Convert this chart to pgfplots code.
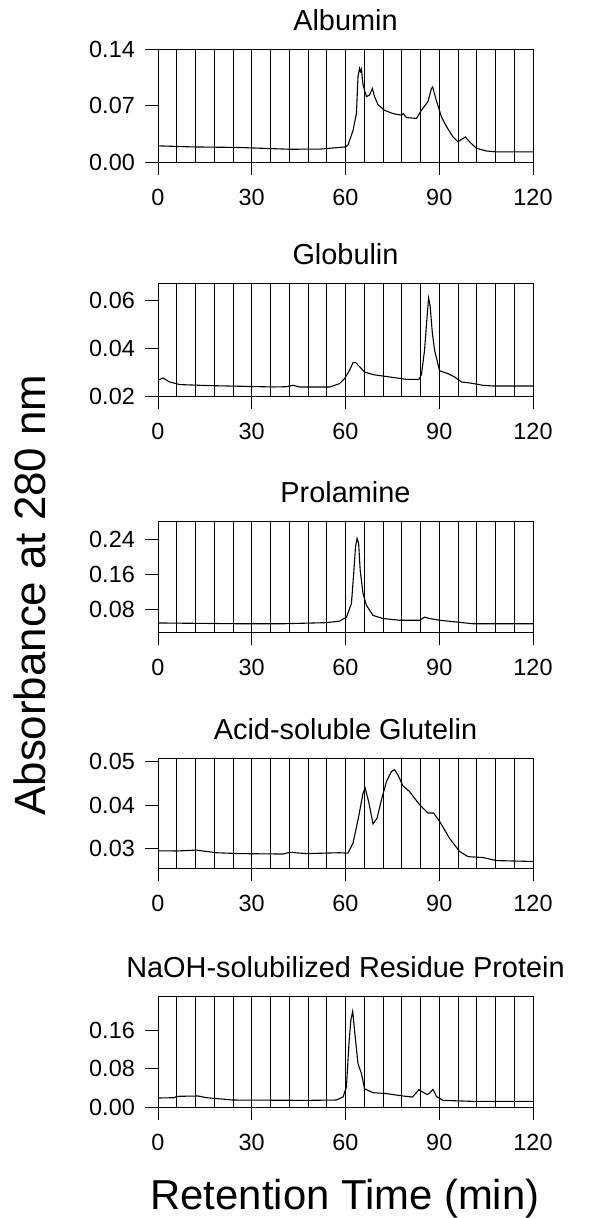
\documentclass[border=0pt]{standalone}
\usepackage{pgfplots}
\pgfplotsset{compat=1.18}
\usepackage{fontspec}
\setmainfont{Liberation Sans}
\pgfplotsset{
  trace/.style={black, line width=1.1bp, mark=none},
  panel/.style={
    scale only axis, width=375bp,
    anchor=north west,
    xmin=0, xmax=120,
    xtick={0,30,60,90,120},
    minor xtick={6,12,...,114},
    xmajorgrids, xminorgrids,
    major grid style={black, line width=0.8bp},
    minor grid style={black, line width=0.8bp},
    minor tick length=0pt,
    major tick length=13bp,
    tick align=outside,
    tick pos=left,
    axis line style={black, line width=1bp},
    tick style={black, line width=1bp},
    scaled y ticks=false,
    /pgf/number format/assume math mode=true,
    ticklabel style={font=\fontsize{23.5}{26}\selectfont},
    yticklabel style={/pgf/number format/fixed, /pgf/number format/fixed zerofill, /pgf/number format/precision=2, inner sep=0pt, xshift=-10bp},
    xticklabel style={inner sep=0pt, yshift=-14bp},
    title style={font=\fontsize{29}{33}\selectfont, at={(0.5,1)}, anchor=base, yshift=13bp},
  }
}
\begin{document}
\begin{tikzpicture}
\useasboundingbox (0,0) rectangle (592bp,-1218bp);

% Albumin
\begin{axis}[panel, at={(158bp,-49bp)}, height=113bp, ymin=0, ymax=0.14,
  ytick={0,0.07,0.14}, title={Albumin}]
\addplot[trace] coordinates {
(0,0.020) (11,0.0187) (26,0.018) (42,0.0158) (52,0.016) (60,0.0187) (60.8,0.021)
(62.4,0.039) (63.5,0.060) (64,0.106) (64.5,0.116) (64.8,0.112) (65.1,0.115)
(65.6,0.096) (66.7,0.081) (67.7,0.083) (68.6,0.091) (69.3,0.081) (70.4,0.071)
(72.5,0.064) (75.2,0.060) (78,0.058) (78.5,0.060) (79.5,0.055) (82.7,0.054)
(84.3,0.064) (86.4,0.075) (87.5,0.091) (87.9,0.093) (89,0.077) (90.7,0.056)
(92.3,0.044) (94.4,0.031) (96,0.025) (97.1,0.028) (98.4,0.031) (99.7,0.025)
(101.9,0.017) (105,0.0137) (108.3,0.0125) (120,0.0125)
};
\end{axis}

% Globulin
\begin{axis}[panel, at={(158bp,-283bp)}, height=113bp, ymin=0.02, ymax=0.0675,
  ytick={0.02,0.04,0.06}, title={Globulin}]
\addplot[trace] coordinates {
(0,0.0266) (1.6,0.0276) (3.7,0.0259) (7,0.0248) (15.5,0.0244) (26,0.0241)
(37,0.0238) (41,0.0239) (43.2,0.0245) (45.3,0.0238) (55,0.0238) (58.1,0.0252)
(59.7,0.0273) (61.3,0.0308) (62.4,0.034) (63.3,0.034) (64.5,0.0323) (66.1,0.0301)
(68.8,0.029) (74.1,0.028) (79.5,0.027) (83.5,0.027) (84.3,0.029) (85.3,0.0393)
(86.1,0.0534) (86.6,0.0611) (87.1,0.0576) (87.8,0.0463) (88.5,0.0393)
(90.1,0.0306) (92.8,0.0294) (94.9,0.028) (97.1,0.0259) (99.7,0.0255)
(104,0.0245) (107.2,0.0242) (120,0.0242)
};
\end{axis}

% Prolamine
\begin{axis}[panel, at={(158bp,-521bp)}, height=111bp, ymin=0.0282, ymax=0.281,
  ytick={0.08,0.16,0.24}, title={Prolamine}]
\addplot[trace] coordinates {
(0,0.0488) (26,0.047) (40,0.047) (53.9,0.0495) (58.1,0.053) (60.3,0.062)
(61.9,0.093) (62.7,0.169) (63.2,0.222) (63.7,0.2415) (64.2,0.23) (64.7,0.169)
(65.6,0.116) (66.7,0.089) (68.8,0.066) (72,0.059) (77.3,0.055) (83.7,0.055)
(85.3,0.062) (86.9,0.059) (90.1,0.055) (95.5,0.051) (100.8,0.047) (120,0.047)
};
\end{axis}

% Acid-soluble Glutelin
\begin{axis}[panel, at={(158bp,-758bp)}, height=110bp, ymin=0.0256, ymax=0.0508,
  ytick={0.03,0.04,0.05}, title={Acid-soluble Glutelin}]
\addplot[trace] coordinates {
(0,0.02954) (5.9,0.0295) (12.3,0.0297) (18.7,0.0291) (26,0.0289) (40,0.0288)
(42.1,0.0292) (47.5,0.0289) (58.1,0.0291) (60.8,0.029) (62.4,0.0313) (64,0.0366)
(65.6,0.0427) (66.3,0.0439) (67.5,0.0405) (68.8,0.0357) (70.1,0.037) (71.5,0.0412)
(73.1,0.0454) (74.7,0.0477) (75.7,0.0481) (76.8,0.0469) (78.4,0.0444) (80.5,0.0431)
(83.7,0.0401) (86.4,0.0382) (88.2,0.0382) (90.1,0.0363) (93.3,0.0324)
(96.5,0.0294) (99.2,0.0282) (104,0.028) (108.3,0.0273) (120,0.0271)
};
\end{axis}

% NaOH-solubilized Residue Protein
\begin{axis}[panel, at={(158bp,-996bp)}, height=111bp, ymin=0, ymax=0.232,
  ytick={0,0.08,0.16}, title={NaOH-solubilized Residue Protein}]
\addplot[trace] coordinates {
(0,0.0188) (5.3,0.0195) (5.9,0.0223) (12.8,0.023) (15.5,0.0195) (24,0.0146)
(47.5,0.0139) (57.1,0.0146) (59.2,0.0209) (60.3,0.0418) (61.1,0.132) (61.7,0.181)
(62.3,0.200) (63,0.153) (64,0.0905) (65.1,0.070) (66.1,0.038) (68.8,0.030)
(73.1,0.028) (78.4,0.023) (81.4,0.0209) (83.5,0.036) (84.8,0.031) (86.1,0.026)
(86.9,0.029) (88,0.037) (89.1,0.022) (91.2,0.0139) (100.8,0.0118) (120,0.0118)
};
\end{axis}

\node[rotate=90, anchor=base, font=\fontsize{44}{50}\selectfont, inner sep=0pt] at (45bp,-595bp) {Absorbance at 280 nm};
\node[anchor=base, font=\fontsize{42}{48}\selectfont, inner sep=0pt] at (345bp,-1209bp) {Retention Time (min)};
\end{tikzpicture}
\end{document}
